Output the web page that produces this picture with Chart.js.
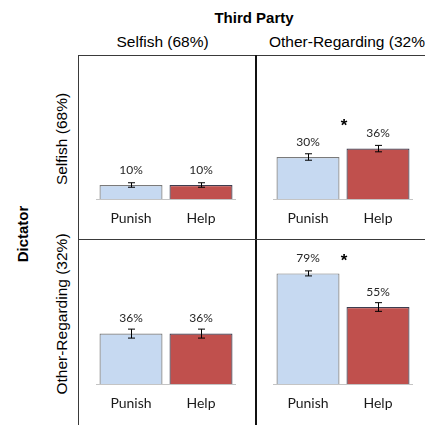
<!DOCTYPE html>
<html>
<head>
<meta charset="utf-8">
<script src="https://cdn.jsdelivr.net/npm/chart.js@4/dist/chart.umd.min.js"></script>
<style>
  html, body { margin: 0; padding: 0; background: #fff; }
  #wrap { position: relative; width: 425px; height: 425px; overflow: hidden; background: #fff; }
  .txt { position: absolute; white-space: nowrap; font-family: "Liberation Sans", Arial, sans-serif; font-size: 15.5px; line-height: 15px; color: #000; }
  .bold { font-weight: bold; font-size: 15px; }
  .rot { transform: translate(-50%, -50%) rotate(-90deg); }
  .line { position: absolute; }
  .panel { position: absolute; width: 140px; height: 180px; }
</style>
</head>
<body>
<div id="wrap">
  <div class="txt bold" id="colTitle" style="left:254px; top:10px; transform:translateX(-50%);"></div>
  <div class="txt" id="colHead0" style="left:116.5px; top:34px;"></div>
  <div class="txt" id="colHead1" style="left:269px; top:34px;"></div>
  <div class="txt bold rot" id="rowTitle" style="left:21.5px; top:234px;"></div>
  <div class="txt rot" id="rowHead0" style="left:61px; top:139px;"></div>
  <div class="txt rot" id="rowHead1" style="left:61px; top:314px;"></div>

  <!-- frame lines -->
  <div class="line" style="left:78px; top:54.5px; width:347px; height:1.5px; background:#3a3a3a;"></div>
  <div class="line" style="left:77.5px; top:54.5px; width:1.5px; height:371px; background:#3a3a3a;"></div>
  <div class="line" style="left:254.5px; top:54.5px; width:2px; height:371px; background:#111;"></div>
  <div class="line" style="left:78px; top:238.5px; width:347px; height:1.5px; background:#3a3a3a;"></div>

  <div class="panel" style="left:96px; top:59px;"><canvas id="p0" width="140" height="180"></canvas></div>
  <div class="panel" style="left:273px; top:59px;"><canvas id="p1" width="140" height="180"></canvas></div>
  <div class="panel" style="left:96px; top:244px;"><canvas id="p2" width="140" height="180"></canvas></div>
  <div class="panel" style="left:273px; top:244px;"><canvas id="p3" width="140" height="180"></canvas></div>
</div>
<script>
// Labels
const colTitle = 'Third Party';
const rowTitle = 'Dictator';
const thirdPartyTypes = ['Selfish (68%)', 'Other-Regarding (32%)'];
const dictatorTypes = ['Selfish (68%)', 'Other-Regarding (32%)'];
const categories = ['Punish', 'Help'];

// Percent of third parties intervening, [Punish, Help], per dictator x third-party cell
const selfishDictatorSelfishTP = [10, 10];
const selfishDictatorOtherTP = [30, 36];
const otherDictatorSelfishTP = [36, 36];
const otherDictatorOtherTP = [79, 55];

// Standard errors (percentage points)
const errSelfishDictatorSelfishTP = [1.6, 1.6];
const errSelfishDictatorOtherTP = [2.3, 2.3];
const errOtherDictatorSelfishTP = [3.2, 3.2];
const errOtherDictatorOtherTP = [1.8, 3.1];

// Punish vs Help difference significant?
const significantDiff = [false, true, false, true];

document.getElementById('colTitle').textContent = colTitle;
document.getElementById('rowTitle').textContent = rowTitle;
document.getElementById('colHead0').textContent = thirdPartyTypes[0];
document.getElementById('colHead1').textContent = thirdPartyTypes[1];
document.getElementById('rowHead0').textContent = dictatorTypes[0];
document.getElementById('rowHead1').textContent = dictatorTypes[1];

const panels = [
  { id: 'p0', values: selfishDictatorSelfishTP, errors: errSelfishDictatorSelfishTP, sig: significantDiff[0], starLift: 0 },
  { id: 'p1', values: selfishDictatorOtherTP, errors: errSelfishDictatorOtherTP, sig: significantDiff[1], starLift: 25 },
  { id: 'p2', values: otherDictatorSelfishTP, errors: errOtherDictatorSelfishTP, sig: significantDiff[2], starLift: 0 },
  { id: 'p3', values: otherDictatorOtherTP, errors: errOtherDictatorOtherTP, sig: significantDiff[3], starLift: 15.5 }
];

// Error bars, value labels and significance star
const annotatePlugin = {
  id: 'annotate',
  afterDatasetsDraw(chart, args, opts) {
    const ctx = chart.ctx;
    const meta = chart.getDatasetMeta(0);
    const yScale = chart.scales.y;
    const vals = chart.data.datasets[0].data;
    ctx.save();
    ctx.strokeStyle = '#000';
    ctx.lineWidth = 1;
    meta.data.forEach((bar, i) => {
      const v = vals[i];
      const e = opts.errors[i];
      const x = Math.round(bar.x) + 0.5;
      const yHi = yScale.getPixelForValue(v + e);
      const yLo = yScale.getPixelForValue(v - e);
      ctx.beginPath();
      ctx.moveTo(x, yHi); ctx.lineTo(x, yLo);
      ctx.moveTo(x - 3.5, yHi); ctx.lineTo(x + 3.5, yHi);
      ctx.moveTo(x - 3.5, yLo); ctx.lineTo(x + 3.5, yLo);
      ctx.stroke();
      ctx.fillStyle = '#262626';
      ctx.font = '12px Lato, "Open Sans", sans-serif';
      ctx.textAlign = 'center';
      ctx.textBaseline = 'middle';
      ctx.fillText(v + '%', bar.x, yScale.getPixelForValue(v) - 15);
    });
    if (opts.sig) {
      const top = yScale.getPixelForValue(Math.max(...vals));
      const xMid = (meta.data[0].x + meta.data[1].x) / 2 + 1;
      ctx.fillStyle = '#000';
      ctx.font = 'bold 17px "Liberation Sans", Arial, sans-serif';
      ctx.textAlign = 'center';
      ctx.textBaseline = 'middle';
      ctx.fillText('*', xMid, top - opts.starLift + 3);
    }
    ctx.restore();
  }
};

panels.forEach(p => {
  new Chart(document.getElementById(p.id), {
    type: 'bar',
    data: {
      labels: categories,
      datasets: [{
        data: p.values,
        backgroundColor: ['#C6D9F1', '#C0504D'],
        borderColor: ['#7a7a7a', '#3d3d4f'],
        borderWidth: 1.2,
        categoryPercentage: 1.0,
        barPercentage: 0.9
      }]
    },
    options: {
      responsive: false,
      devicePixelRatio: 1,
      animation: false,
      layout: { padding: 0 },
      plugins: {
        legend: { display: false },
        tooltip: { enabled: false },
        annotate: { errors: p.errors, sig: p.sig, starLift: p.starLift }
      },
      scales: {
        x: {
          grid: { display: false, drawTicks: false, tickLength: 0 },
          border: { display: true, color: '#c4c4c4', width: 1 },
          ticks: { color: '#1a1a1a', padding: 11, font: { family: 'Lato, "Open Sans", sans-serif', size: 14 } },
          afterFit(axis) { axis.height = 40; }
        },
        y: { display: false, min: 0, max: 100 }
      }
    },
    plugins: [annotatePlugin]
  });
});
</script>
</body>
</html>
